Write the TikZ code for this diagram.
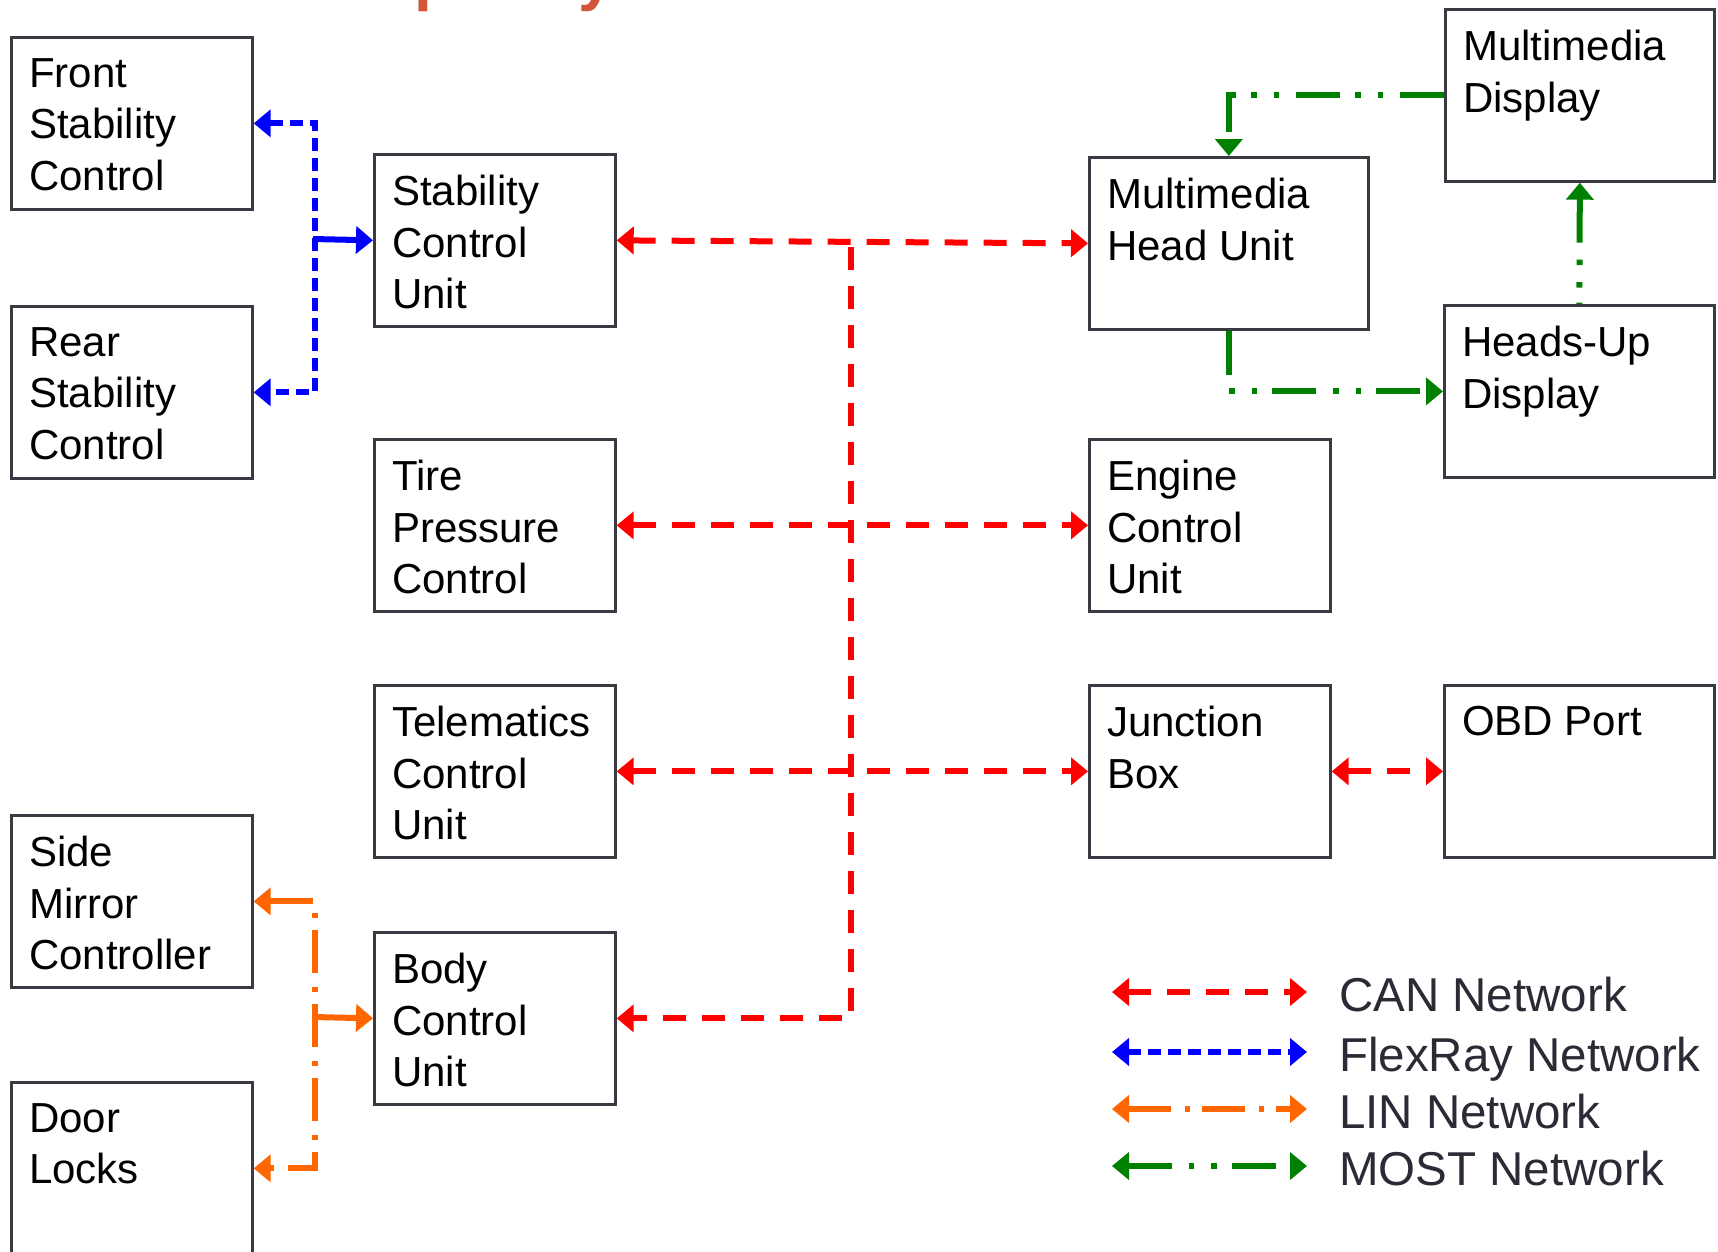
\documentclass[tikz,border=0pt]{standalone}
\usepackage{fontspec}
\setmainfont{Liberation Sans}
\usetikzlibrary{arrows.meta}
\definecolor{canred}{RGB}{255,0,0}
\definecolor{flexblue}{RGB}{0,0,255}
\definecolor{linorange}{RGB}{255,102,0}
\definecolor{mostgreen}{RGB}{0,128,0}
\definecolor{boxline}{RGB}{58,58,66}
\definecolor{legendtext}{RGB}{43,43,54}
\definecolor{titlered}{RGB}{212,86,58}

\begin{document}
\begin{tikzpicture}[x=1pt,y=-1pt,
  ecu/.style={draw=boxline, line width=2.7pt, minimum width=#1,
    minimum height=172pt, anchor=north west, inner sep=0pt},
  ecu/.default=241pt,
  lbl/.style={anchor=north west, inner sep=0pt, align=left,
    font=\fontsize{42}{51.5}\selectfont},
  legtxt/.style={anchor=base west, inner sep=0pt, text=legendtext,
    font=\fontsize{47.5}{56}\selectfont},
  ttl/.style={anchor=base west, inner sep=0pt, text=titlered,
    font=\bfseries\fontsize{64}{70}\selectfont},
  net/.style={line width=6pt, >={Triangle[length=17pt,width=27pt]}},
  can/.style={net, draw=canred, dash pattern=on 23pt off 16pt},
  flex/.style={net, draw=flexblue, dash pattern=on 13pt off 7pt},
  lin/.style={net, draw=linorange, dash pattern=on 43pt off 14pt on 5pt off 12pt},
  most/.style={net, draw=mostgreen,
    dash pattern=on 44pt off 17pt on 5.5pt off 17pt on 5.5pt off 15pt},
]
\useasboundingbox (0,0) rectangle (1718,1251);
\fill[white] (0,0) rectangle (1718,1251);

% heading descenders running off the top edge
\node[ttl] (ttlp) at (414,-2) {p};
\node[ttl] (ttly) at (578,-2) {y};

% control units
\node[ecu] (FSC) at (10,36) {};
\node[ecu] (RSC) at (10,305) {};
\node[ecu] (SMC) at (10,814) {};
\node[ecu] (DL)  at (10,1081) {};
\node[ecu] (SCU) at (373,153) {};
\node[ecu] (TPC) at (373,438) {};
\node[ecu] (TCU) at (373,684) {};
\node[ecu] (BCU) at (373,931) {};
\node[ecu=279pt] (MHU) at (1088,156) {};
\node[ecu=269pt] (MD)  at (1444,8) {};
\node[ecu=270pt] (HUD) at (1443,304) {};
\node[ecu] (ECM) at (1088,438) {};
\node[ecu] (JB)  at (1088,684) {};
\node[ecu=270pt] (OBD) at (1443,684) {};

\node[lbl] (FSCt) at ([shift={(19,22)}]FSC.north west) {Front\\Stability\\Control};
\node[lbl] (RSCt) at ([shift={(19,22)}]RSC.north west) {Rear\\Stability\\Control};
\node[lbl] (SMCt) at ([shift={(19,22)}]SMC.north west) {Side\\Mirror\\Controller};
\node[lbl] (DLt)  at ([shift={(19,22)}]DL.north west) {Door\\Locks};
\node[lbl] (SCUt) at ([shift={(19,22)}]SCU.north west) {Stability\\Control\\Unit};
\node[lbl] (TPCt) at ([shift={(19,22)}]TPC.north west) {Tire\\Pressure\\Control};
\node[lbl] (TCUt) at ([shift={(19,22)}]TCU.north west) {Telematics\\Control\\Unit};
\node[lbl] (BCUt) at ([shift={(19,22)}]BCU.north west) {Body\\Control\\Unit};
\node[lbl] (MHUt) at ([shift={(19,22)}]MHU.north west) {Multimedia\\Head Unit};
\node[lbl] (MDt)  at ([shift={(19,22)}]MD.north west) {Multimedia\\Display};
\node[lbl] (HUDt) at ([shift={(19,22)}]HUD.north west) {Heads-Up\\Display};
\node[lbl] (ECMt) at ([shift={(19,22)}]ECM.north west) {Engine\\Control\\Unit};
\node[lbl] (JBt)  at ([shift={(19,22)}]JB.north west) {Junction\\Box};
\node[lbl] (OBDt) at ([shift={(19,22)}]OBD.north west) {OBD Port};

% FlexRay bus
\coordinate (fxtap) at (313,239);
\draw[flex,<->] (FSC.east) -- ++(61,0) |- (RSC.east);
\draw[flex,->,solid] (fxtap) -- (SCU.west);

% LIN bus
\coordinate (lintap) at (313,1017);
\draw[lin,<->] (SMC.east) -- ++(61,0) |- (DL.east);
\draw[lin,->,solid] (lintap) -- (BCU.west);

% CAN bus
\coordinate (cantop) at (851,247);
\draw[can,<->] (SCU.east) -- (MHU.west);
\draw[can,<->] (TPC.east) -- (ECM.west);
\draw[can,<->] (TCU.east) -- (JB.west);
\draw[can,->] (cantop) |- (BCU.east);
\draw[can,<->] (JB.east) -- (OBD.west);

% MOST ring
\draw[most,->] (MD.west) -| (MHU.north);
\draw[most,->] (MHU.south) |- (HUD.west);
\draw[most,<-] (MD.south) -- (HUD.north);

% legend
\coordinate (lg1a) at (1112,992);  \coordinate (lg1b) at (1307,992);
\coordinate (lg2a) at (1112,1052); \coordinate (lg2b) at (1307,1052);
\coordinate (lg3a) at (1112,1109); \coordinate (lg3b) at (1307,1109);
\coordinate (lg4a) at (1112,1166); \coordinate (lg4b) at (1307,1166);
\draw[can,<->]  (lg1a) -- (lg1b);
\draw[flex,<->] (lg2a) -- (lg2b);
\draw[lin,<->]  (lg3a) -- (lg3b);
\draw[most,<->] (lg4a) -- (lg4b);
\node[legtxt] (lg1t) at (1339,1011) {CAN Network};
\node[legtxt] (lg2t) at (1339,1071) {FlexRay Network};
\node[legtxt] (lg3t) at (1339,1128) {LIN Network};
\node[legtxt] (lg4t) at (1339,1185) {MOST Network};
\end{tikzpicture}
\end{document}
